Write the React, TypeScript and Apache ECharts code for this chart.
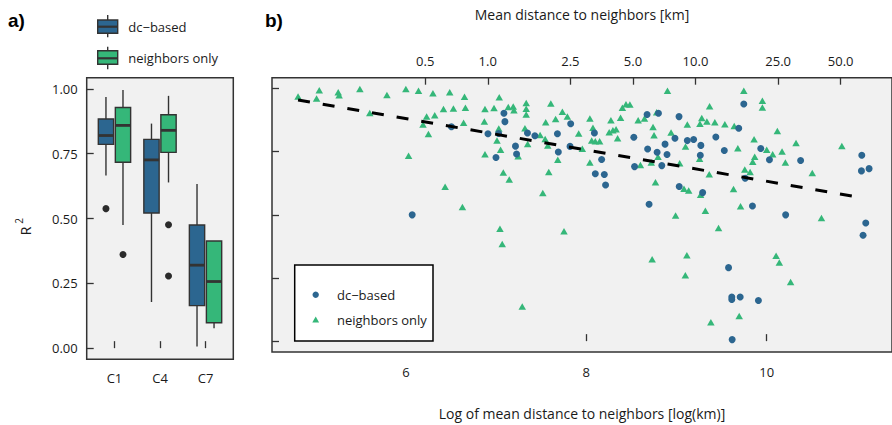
import React, { useEffect, useRef } from "react";
import * as echarts from "echarts";

// ---------- data ----------
const boxCategories = ["C1", "C4", "C7"];
// [min, q1, median, q3, max]
const dcBox = [
  [0.666, 0.786, 0.82, 0.884, 0.969],
  [0.178, 0.521, 0.726, 0.805, 0.866],
  [0.006, 0.164, 0.32, 0.475, 0.633],
];
const nbBox = [
  [0.475, 0.717, 0.859, 0.928, 0.996],
  [0.639, 0.755, 0.84, 0.9, 0.973],
  [0.077, 0.098, 0.257, 0.413, 0.413],
];
// [category index, value]
const dcOutliers = [[0, 0.538]];
const nbOutliers = [
  [0, 0.361],
  [1, 0.476],
  [1, 0.278],
];

const dcPoints = [
  [6.07, 0.5], [6.505, 0.849], [6.91, 0.821], [7.028, 0.822], [7.087, 0.902],
  [7.098, 0.869], [6.999, 0.727], [7.215, 0.772], [7.227, 0.741], [7.348, 0.824],
  [7.43, 0.813], [7.68, 0.821], [7.69, 0.749], [7.827, 0.861], [7.82, 0.771],
  [8.09, 0.824], [8.1, 0.663], [8.17, 0.719], [8.2, 0.66], [8.214, 0.618],
  [8.527, 0.807], [8.535, 0.691], [8.68, 0.761], [8.674, 0.897], [8.8, 0.902],
  [8.785, 0.748], [8.837, 0.695], [8.873, 0.78], [8.895, 0.739], [8.983, 0.803],
  [9.028, 0.889], [9.12, 0.794], [9.19, 0.798], [9.27, 0.775], [9.264, 0.736],
  [9.436, 0.808], [9.53, 0.755], [9.69, 0.843], [9.746, 0.939], [9.761, 0.645],
  [9.842, 0.535], [9.03, 0.612], [9.29, 0.588], [8.696, 0.542], [9.934, 0.763],
  [10.03, 0.718], [10.376, 0.715], [10.21, 0.5], [11.054, 0.736], [11.05, 0.674],
  [11.135, 0.683], [11.098, 0.468], [11.068, 0.419], [9.577, 0.291], [9.613, 0.175],
  [9.613, 0.165], [9.706, 0.175], [9.908, 0.161], [9.617, 0.006],
];

const nbPoints = [
  [4.805, 0.969], [5.04, 0.993], [5.01, 0.961], [5.25, 0.985], [5.26, 0.974],
  [5.49, 0.998], [5.79, 0.975], [5.6, 0.903], [6.0, 0.998], [6.14, 0.991],
  [6.3, 0.981], [6.23, 0.889], [6.32, 0.894], [6.19, 0.858], [6.25, 0.82],
  [6.03, 0.734], [6.486, 0.985], [6.65, 0.968], [6.417, 0.919], [6.527, 0.921],
  [6.66, 0.924], [6.64, 0.865], [6.435, 0.611], [6.627, 0.531], [6.877, 0.919],
  [6.977, 0.923], [7.035, 0.966], [7.135, 0.927], [7.19, 0.929], [7.198, 0.914],
  [7.334, 0.943], [7.334, 0.92], [7.334, 0.897], [6.87, 0.87], [7.03, 0.842],
  [7.01, 0.794], [7.05, 0.758], [6.877, 0.74], [7.08, 0.668], [7.146, 0.64],
  [7.245, 0.732], [7.32, 0.843], [7.35, 0.781], [7.607, 0.941], [7.735, 0.908],
  [7.79, 0.889], [7.66, 0.879], [7.55, 0.867], [7.544, 0.8], [7.488, 0.816],
  [7.573, 0.775], [7.684, 0.718], [7.584, 0.67], [7.518, 0.587], [7.043, 0.445],
  [7.068, 0.385], [7.753, 0.435], [7.29, 0.137], [7.916, 0.822], [7.956, 0.762],
  [8.04, 0.881], [8.074, 0.845], [8.06, 0.794], [8.1, 0.791], [8.148, 0.791],
  [8.04, 0.707], [8.4, 0.924], [8.44, 0.938], [8.483, 0.937], [8.38, 0.884],
  [8.273, 0.875], [8.254, 0.827], [8.295, 0.835], [8.33, 0.839], [8.347, 0.803],
  [8.575, 0.875], [8.645, 0.881], [8.78, 0.906], [8.9, 0.991], [8.74, 0.848],
  [8.751, 0.815], [8.94, 0.826], [8.6, 0.697], [8.72, 0.707], [8.795, 0.73],
  [8.767, 0.629], [8.99, 0.497], [9.1, 0.771], [9.035, 0.704], [9.12, 0.858],
  [9.083, 0.603], [9.135, 0.596], [9.26, 0.861], [9.28, 0.883], [9.337, 0.87],
  [9.367, 0.93], [9.425, 0.867], [9.536, 0.859], [9.64, 0.852], [9.746, 0.991],
  [9.68, 0.764], [9.86, 0.799], [9.256, 0.722], [9.363, 0.661], [9.267, 0.58],
  [9.32, 0.516], [9.632, 0.602], [9.71, 0.534], [9.757, 0.68], [9.816, 0.67],
  [9.845, 0.71], [9.867, 0.73], [9.466, 0.448], [9.952, 0.952], [9.952, 0.925],
  [10.118, 0.832], [10.0, 0.758], [10.066, 0.74], [10.17, 0.751], [10.207, 0.707],
  [10.325, 0.784], [10.505, 0.666], [10.833, 0.773], [10.607, 0.488], [8.73, 0.324],
  [9.115, 0.34], [9.098, 0.261], [10.104, 0.338], [10.14, 0.311], [10.265, 0.234],
  [9.695, 0.1], [9.381, 0.075],
];

const trendLine = [
  [4.805, 0.955],
  [11.05, 0.568],
];

const yTicks = [0, 0.25, 0.5, 0.75, 1];
const logTicks = [6, 8, 10];
const kmTicks = [0.5, 1, 2.5, 5, 10, 25, 50];

// ---------- styles ----------
const FONT = '"Open Sans", "Noto Sans", sans-serif';
const DC_COLOR = "#2C6690";
const NB_COLOR = "#35B779";
const EDGE = "#333333";
const BG = "#F1F1F1";
const TEXT = "#1a1a1a";
const DC_OFF = -0.187;
const NB_OFF = 0.187;
const BOX_HALF = 0.168;

function boxRenderer(color: string) {
  return (params: any, api: any) => {
    const x = api.value(0);
    const pMin = api.coord([x, api.value(1)]);
    const pQ1 = api.coord([x, api.value(2)]);
    const pMed = api.coord([x, api.value(3)]);
    const pQ3 = api.coord([x, api.value(4)]);
    const pMax = api.coord([x, api.value(5)]);
    const hw = api.size([BOX_HALF, 0])[0];
    return {
      type: "group",
      children: [
        { type: "line", shape: { x1: pMin[0], y1: pMin[1], x2: pQ1[0], y2: pQ1[1] }, style: { stroke: EDGE, lineWidth: 1.4 } },
        { type: "line", shape: { x1: pQ3[0], y1: pQ3[1], x2: pMax[0], y2: pMax[1] }, style: { stroke: EDGE, lineWidth: 1.4 } },
        { type: "rect", shape: { x: pQ3[0] - hw, y: pQ3[1], width: 2 * hw, height: pQ1[1] - pQ3[1] }, style: { fill: color, stroke: EDGE, lineWidth: 1.4 } },
        { type: "line", shape: { x1: pMed[0] - hw, y1: pMed[1], x2: pMed[0] + hw, y2: pMed[1] }, style: { stroke: EDGE, lineWidth: 2.8 } },
      ],
    };
  };
}

const tickCommon = { show: true, inside: true, length: 7, lineStyle: { color: EDGE, width: 1.3 } };
const labelCommon = { color: TEXT, fontFamily: FONT, fontSize: 13 };

function legendBoxIcon(x: number, yTop: number, yBoxTop: number, yMed: number, yBoxBot: number, yBot: number, color: string) {
  return [
    { type: "line", shape: { x1: x + 10, y1: yTop, x2: x + 10, y2: yBot }, style: { stroke: EDGE, lineWidth: 1.4 } },
    { type: "rect", shape: { x, y: yBoxTop, width: 20, height: yBoxBot - yBoxTop }, style: { fill: color, stroke: EDGE, lineWidth: 1.4 } },
    { type: "line", shape: { x1: x, y1: yMed, x2: x + 20, y2: yMed }, style: { stroke: EDGE, lineWidth: 2.2 } },
  ];
}

export default function App() {
  const ref = useRef<HTMLDivElement>(null);
  useEffect(() => {
    if (!ref.current) return;
    const chart = echarts.init(ref.current, undefined, { renderer: "svg" });
    const yLabelFmt = (v: number) => v.toFixed(2);
    const option: any = {
      animation: false,
      backgroundColor: "#ffffff",
      grid: [
        { left: 86.7, top: 77.7, width: 146.6, height: 281.6, show: true, backgroundColor: BG, borderColor: EDGE, borderWidth: 1.5 },
        { left: 272, top: 77.7, width: 622, height: 281.6, show: true, backgroundColor: BG, borderColor: EDGE, borderWidth: 1.5 },
      ],
      xAxis: [
        {
          gridIndex: 0, type: "value", min: 0.39, max: 3.61,
          axisLine: { show: false }, splitLine: { show: false },
          axisTick: { ...tickCommon, customValues: [1, 2, 3] },
          axisLabel: { ...labelCommon, margin: 12, customValues: [1, 2, 3], formatter: (v: number) => boxCategories[Math.round(v) - 1] },
        },
        {
          gridIndex: 1, type: "value", position: "bottom", min: 4.516, max: 4.516 + 622 / 90.5,
          axisLine: { show: false }, splitLine: { show: false },
          axisTick: { ...tickCommon, customValues: logTicks },
          axisLabel: { ...labelCommon, margin: 13, customValues: logTicks, formatter: (v: number) => String(v) },
          name: "Log of mean distance to neighbors [log(km)]", nameLocation: "middle", nameGap: 54,
          nameTextStyle: { color: TEXT, fontFamily: FONT, fontSize: 14 },
        },
        {
          gridIndex: 1, type: "value", position: "top", min: 4.516, max: 4.516 + 622 / 90.5,
          axisLine: { show: false }, splitLine: { show: false },
          axisTick: { ...tickCommon, customValues: kmTicks.map((k) => Math.log(k * 1000)) },
          axisLabel: { ...labelCommon, margin: 10, customValues: kmTicks.map((k) => Math.log(k * 1000)), formatter: (v: number) => (Math.exp(v) / 1000).toFixed(1) },
          name: "Mean distance to neighbors [km]", nameLocation: "middle", nameGap: 56,
          nameTextStyle: { color: TEXT, fontFamily: FONT, fontSize: 14 },
        },
      ],
      yAxis: [
        {
          gridIndex: 0, type: "value", min: -0.043, max: 1.043,
          axisLine: { show: false }, splitLine: { show: false },
          axisTick: { ...tickCommon, customValues: yTicks },
          axisLabel: { ...labelCommon, margin: 9, customValues: yTicks, formatter: yLabelFmt },
        },
        {
          gridIndex: 1, type: "value", min: -0.043, max: 1.043,
          axisLine: { show: false }, splitLine: { show: false },
          axisTick: { ...tickCommon, customValues: yTicks },
          axisLabel: { show: false },
        },
      ],
      series: [
        {
          type: "custom", xAxisIndex: 0, yAxisIndex: 0, renderItem: boxRenderer(DC_COLOR),
          encode: { x: 0, y: [1, 2, 3, 4, 5] },
          data: dcBox.map((b, i) => [i + 1 + DC_OFF, ...b]),
        },
        {
          type: "custom", xAxisIndex: 0, yAxisIndex: 0, renderItem: boxRenderer(NB_COLOR),
          encode: { x: 0, y: [1, 2, 3, 4, 5] },
          data: nbBox.map((b, i) => [i + 1 + NB_OFF, ...b]),
        },
        {
          type: "scatter", xAxisIndex: 0, yAxisIndex: 0, symbol: "circle", symbolSize: 7,
          itemStyle: { color: "#2b2b2b", opacity: 1 },
          data: [
            ...dcOutliers.map(([c, v]) => [c + 1 + DC_OFF, v]),
            ...nbOutliers.map(([c, v]) => [c + 1 + NB_OFF, v]),
          ],
        },
        {
          type: "scatter", xAxisIndex: 1, yAxisIndex: 1, symbol: "triangle", symbolSize: [7.5, 6.5],
          itemStyle: { color: NB_COLOR, opacity: 1 }, data: nbPoints, z: 2,
        },
        {
          type: "scatter", xAxisIndex: 1, yAxisIndex: 1, symbol: "circle", symbolSize: 7,
          itemStyle: { color: DC_COLOR, opacity: 1 }, data: dcPoints, z: 3,
        },
        {
          type: "line", xAxisIndex: 1, yAxisIndex: 1, data: trendLine, symbol: "none", z: 4,
          lineStyle: { color: "#000", width: 3, type: [12, 13] },
        },
      ],
      graphic: [
        { type: "text", left: 8, top: 11, style: { text: "a)", font: 'bold 19px "Liberation Sans", Arial, sans-serif', fill: "#000" } },
        { type: "text", left: 265, top: 11, style: { text: "b)", font: 'bold 19px "Liberation Sans", Arial, sans-serif', fill: "#000" } },
        { type: "text", x: 25, y: 231, rotation: Math.PI / 2, style: { text: "R", fontFamily: FONT, fontSize: 14, fill: TEXT, align: "center", verticalAlign: "middle" } },
        { type: "text", x: 18.5, y: 221, rotation: Math.PI / 2, style: { text: "2", fontFamily: FONT, fontSize: 10, fill: TEXT, align: "center", verticalAlign: "middle" } },
        ...legendBoxIcon(97.7, 15, 20, 26.7, 33.3, 37.3, DC_COLOR),
        ...legendBoxIcon(97.7, 46.7, 50.7, 58.3, 64.3, 69.3, NB_COLOR),
        { type: "text", x: 128.3, y: 26.7, style: { text: "dc−based", fontFamily: FONT, fontSize: 13, fill: TEXT, verticalAlign: "middle" } },
        { type: "text", x: 128.3, y: 58.3, style: { text: "neighbors only", fontFamily: FONT, fontSize: 13, fill: TEXT, verticalAlign: "middle" } },
        { type: "rect", z: 10, shape: { x: 294.7, y: 265, width: 138.3, height: 76 }, style: { fill: "#fff", stroke: "#000", lineWidth: 1.5 } },
        { type: "circle", z: 11, shape: { cx: 315.7, cy: 294.7, r: 3.2 }, style: { fill: DC_COLOR } },
        { type: "polygon", z: 11, shape: { points: [[315.7, 316.5], [312.3, 322.5], [319.1, 322.5]] }, style: { fill: NB_COLOR } },
        { type: "text", z: 11, x: 337, y: 294.7, style: { text: "dc−based", fontFamily: FONT, fontSize: 13, fill: TEXT, verticalAlign: "middle" } },
        { type: "text", z: 11, x: 337, y: 320, style: { text: "neighbors only", fontFamily: FONT, fontSize: 13, fill: TEXT, verticalAlign: "middle" } },
      ],
    };
    chart.setOption(option);
    return () => chart.dispose();
  }, []);
  return <div ref={ref} style={{ position: "fixed", left: 0, top: 0, width: 892, height: 425 }} />;
}
